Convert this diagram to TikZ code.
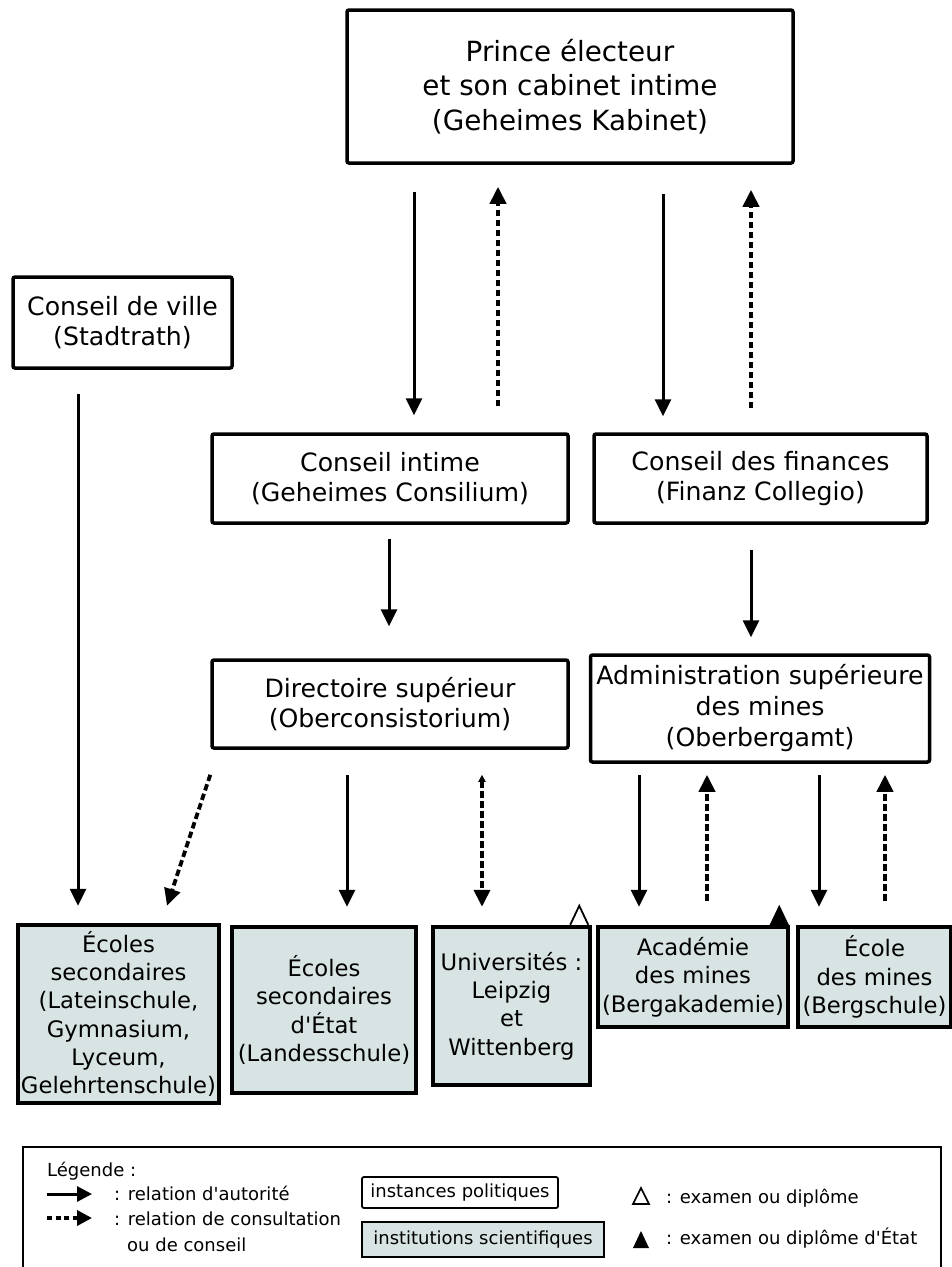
\documentclass[tikz,border=0pt]{standalone}
\usepackage{fontspec}
\setmainfont{DejaVu Sans}
\usetikzlibrary{arrows.meta,calc}
\definecolor{sci}{RGB}{216,228,228}
\begin{document}
\begin{tikzpicture}[x=1pt,y=-1pt,
  pol/.style={draw, line width=3.5pt, rounded corners=2pt, align=center, inner sep=1pt,
     font=\fontsize{25.2}{29.5}\selectfont},
  scib/.style={draw, fill=sci, line width=4.5pt, align=center, inner sep=1pt,
     font=\fontsize{22.7}{28.3}\selectfont},
  auth/.style={line width=3pt, -{Triangle[width=16pt,length=17pt]}},
  cons/.style={line width=3.8pt, dash pattern=on 6.5pt off 3.5pt, -{Triangle[width=16pt,length=17pt]}},
  legtext/.style={font=\fontsize{18}{22}\selectfont, inner sep=0pt, align=left},
]
\useasboundingbox (0,0) rectangle (952,1267);

% political nodes
\node[pol, minimum width=446pt, minimum height=153pt, font=\fontsize{27.8}{34.5}\selectfont] (prince) at (570,86.5)
  {Prince électeur\\et son cabinet intime\\ (Geheimes Kabinet)};
\node[pol, minimum width=219pt, minimum height=91pt] (ville) at (122.5,322.5) {Conseil de ville\\(Stadtrath)};
\node[pol, minimum width=356pt, minimum height=89pt] (intime) at (390,478.5) {Conseil intime\\(Geheimes Consilium)};
\node[pol, minimum width=333pt, minimum height=89pt] (fin) at (760.5,478.5) {Conseil des finances\\(Finanz Collegio)};
\node[pol, minimum width=356pt, minimum height=88pt] (dir) at (390,704) {Directoire supérieur\\(Oberconsistorium)};
\node[pol, minimum width=339pt, minimum height=107pt, font=\fontsize{25.2}{31}\selectfont] (adm) at (760,708.5) {Administration supérieure\\des mines\\(Oberbergamt)};

% scientific nodes
\node[scib, minimum width=201pt, minimum height=178pt] (ec1) at (118.5,1014)
  {Écoles\\secondaires\\(Lateinschule,\\Gymnasium,\\Lyceum,\\Gelehrtenschule)};
\node[scib, minimum width=184pt, minimum height=166pt] (ec2) at (324,1010)
  {Écoles\\secondaires\\d\textquotesingle État\\(Landesschule)};
\node[scib, minimum width=157pt, minimum height=158pt] (univ) at (511.5,1006)
  {Universités :\\Leipzig\\et\\Wittenberg};
\node[scib, minimum width=190pt, minimum height=100pt] (acad) at (693,977)
  {Académie\\des mines\\(Bergakademie)};
\node[scib, minimum width=153pt, minimum height=100pt] (berg) at (874.5,977)
  {École\\des mines\\(Bergschule)};

% x positions
\coordinate (xa) at (414,0);
\coordinate (xb) at (498,0);
\coordinate (xc) at (663,0);
\coordinate (xd) at (751,0);
\coordinate (xe) at (78,0);
\coordinate (xf) at (389,0);
\coordinate (xg) at (347,0);
\coordinate (xh) at (482,0);
\coordinate (xi) at (639,0);
\coordinate (xj) at (707,0);
\coordinate (xk) at (819,0);
\coordinate (xl) at (885,0);

% connectors
\draw[auth] ($(prince.south -| xa)+(0,27)$) -- ($(intime.north -| xa)+(0,-17)$);
\draw[cons] ($(intime.north -| xb)+(0,-26)$) -- ($(prince.south -| xb)+(0,22)$);
\draw[auth] ($(prince.south -| xc)+(0,29)$) -- ($(fin.north -| xc)+(0,-16)$);
\draw[cons] ($(fin.north -| xd)+(0,-24)$) -- ($(prince.south -| xd)+(0,25)$);

\draw[auth] ($(ville.south -| xe)+(0,24)$) -- ($(ec1.north -| xe)+(0,-17)$);
\draw[auth] ($(intime.south -| xf)+(0,14)$) -- ($(dir.north -| xf)+(0,-32)$);
\draw[auth] ($(fin.south -| xd)+(0,25)$) -- ($(adm.north -| xd)+(0,-16)$);

\draw[cons] ($(dir.south west)+(0,25)$) -- ($(ec1.north)+(48.5,-17)$);
\draw[auth] ($(dir.south -| xg)+(0,25)$) -- ($(ec2.north -| xg)+(0,-18)$);
\draw[line width=3.8pt, dash pattern=on 6.5pt off 3.5pt,
      {Triangle[width=7pt,length=7pt]}-{Triangle[width=16pt,length=17pt]}]
  ($(dir.south -| xh)+(0,25)$) -- ($(univ.north -| xh)+(0,-18)$);

\draw[auth] ($(adm.south -| xi)+(0,11)$) -- ($(acad.north -| xi)+(0,-18)$);
\draw[cons] ($(acad.north -| xj)+(0,-24)$) -- ($(adm.south -| xj)+(0,11)$);
\draw[auth] ($(adm.south -| xk)+(0,11)$) -- ($(berg.north -| xk)+(0,-18)$);
\draw[cons] ($(berg.north -| xl)+(0,-24)$) -- ($(adm.south -| xl)+(0,11)$);

% exam triangles
\draw[line width=1.8pt, fill=white, line join=miter]
  ($(univ.north east)+(-22,0)$) -- ($(univ.north east)+(-13,-19)$) -- ($(univ.north east)+(-4,0)$);
\fill ($(acad.north east)+(-21,1)$) -- ($(acad.north east)+(-11,-20)$) -- ($(acad.north east)+(-1,1)$) -- cycle;

% legend
\draw[line width=2pt] (23,1147) rectangle (941,1300);
\node[legtext, anchor=base west] (lg) at (47,1176) {Légende :};
\coordinate (la1) at (47,1194);
\coordinate (la2) at (92,1194);
\coordinate (lb1) at (47,1218);
\coordinate (lb2) at (92,1218);
\draw[line width=3pt, -{Triangle[width=15pt,length=15pt]}] (la1) -- (la2);
\draw[line width=3.5pt, dash pattern=on 5pt off 3.5pt, -{Triangle[width=15pt,length=15pt]}] (lb1) -- (lb2);
\node[legtext, anchor=base west] (l1) at (114,1200) {: relation d\textquotesingle autorité};
\node[legtext, anchor=base west] (l2) at (114,1225) {: relation de consultation};
\node[legtext, anchor=base west] (l3) at (127,1251) {ou de conseil};

\node[legtext, draw, line width=1.8pt, rounded corners=2pt, minimum width=196pt, minimum height=31pt, inner sep=2pt] (lpol) at (460,1192.5) {instances politiques};
\node[legtext, draw, fill=sci, line width=1.8pt, minimum width=242pt, minimum height=35pt, inner sep=2pt] (lsci) at (483,1239.5) {institutions scientifiques};

\draw[line width=1.6pt, line join=miter] (633,1204) -- (641,1188) -- (649,1204) -- cycle;
\fill (633,1248) -- (641,1231) -- (649,1248) -- cycle;
\node[legtext, anchor=base west] (l4) at (666,1203) {: examen ou diplôme};
\node[legtext, anchor=base west] (l5) at (666,1244) {: examen ou diplôme d\textquotesingle État};
\end{tikzpicture}
\end{document}
